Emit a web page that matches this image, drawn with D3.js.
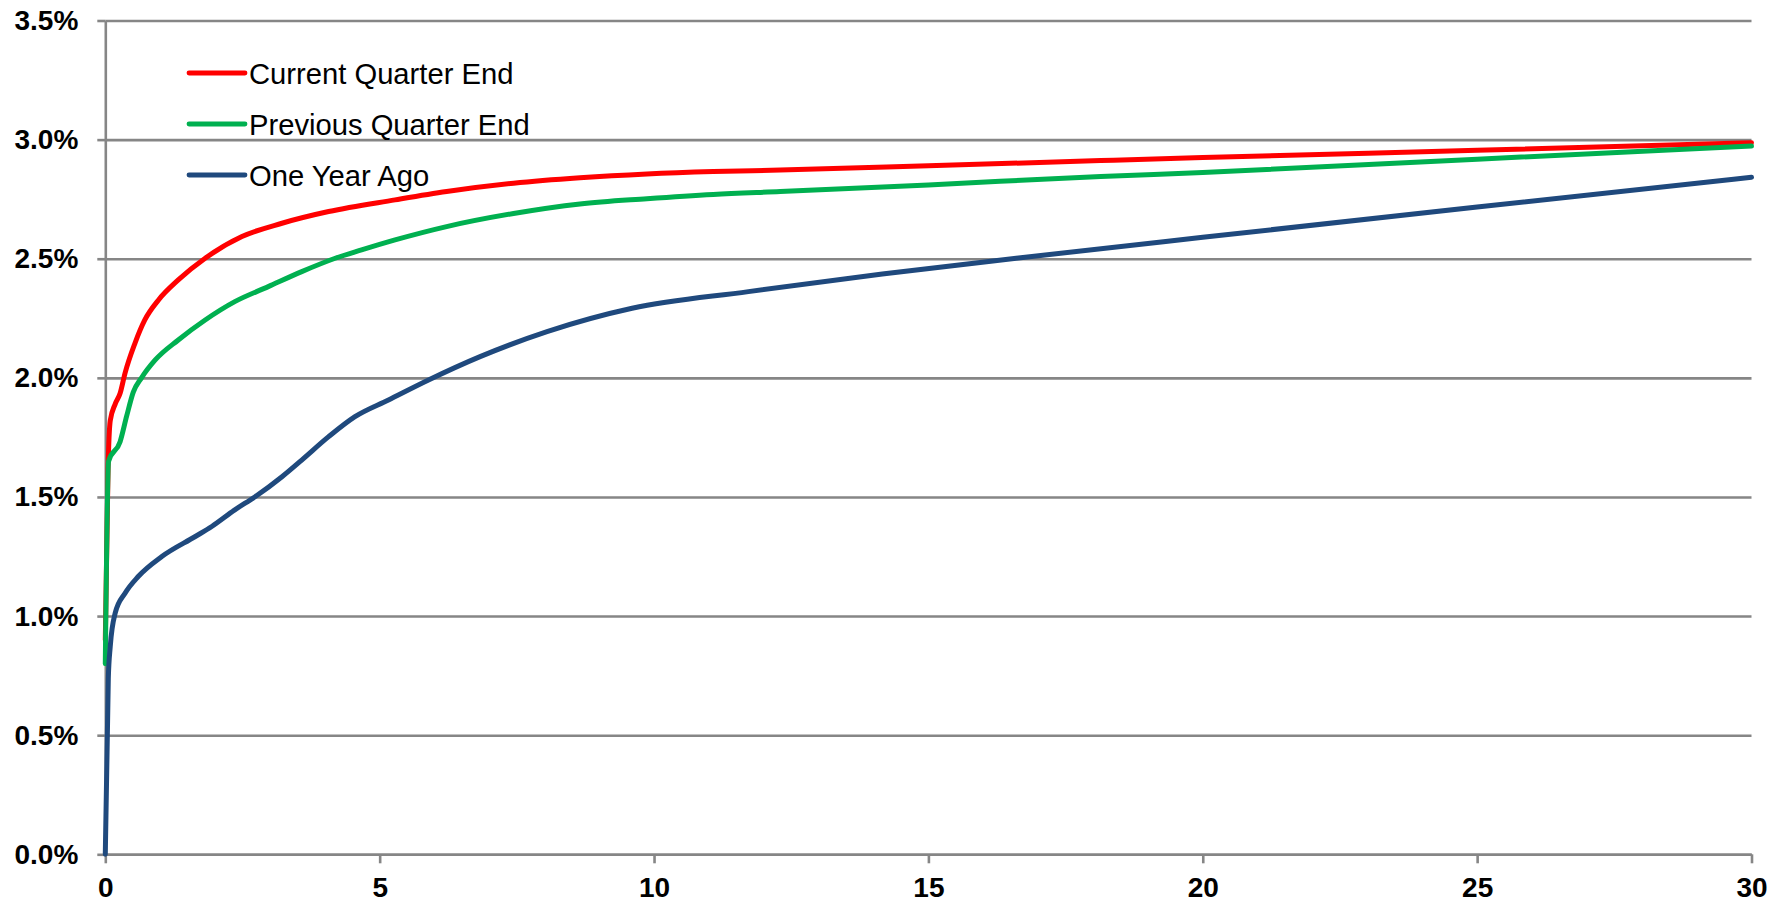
<!DOCTYPE html>
<html>
<head>
<meta charset="utf-8">
<script src="https://cdn.jsdelivr.net/npm/d3@7"></script>
<style>
  body { margin: 0; background: #fff; }
  svg { display: block; }
</style>
</head>
<body>
<div id="viz"></div>
<script>

/* yield curve chart, three dates */

// maturities (years) and yields (%)
const currentX  = [0, 0.05, 0.09, 0.18, 0.27, 0.36, 0.54, 0.72, 0.97, 1.33, 1.82, 2.49, 3.22, 4.07, 5.28, 6.22, 7.44, 8.65, 9.87, 11.08, 12.3, 15, 18.14, 20, 25, 30];
const currentY  = [0.9, 1.62, 1.82, 1.89, 1.935, 2.02, 2.145, 2.243, 2.327, 2.411, 2.502, 2.593, 2.649, 2.698, 2.747, 2.782, 2.817, 2.84, 2.856, 2.866, 2.872, 2.89, 2.912, 2.925, 2.955, 2.987];

const previousX = [0, 0.06, 0.27, 0.39, 0.51, 0.66, 0.91, 1.33, 1.82, 2.36, 2.97, 3.58, 4.19, 4.67, 5.28, 6.22, 7.44, 8.65, 9.87, 11.08, 12.3, 15, 18.14, 20, 25, 30];
const previousY = [0.8, 1.65, 1.732, 1.84, 1.94, 2.0, 2.075, 2.159, 2.243, 2.32, 2.383, 2.446, 2.502, 2.537, 2.579, 2.635, 2.69, 2.73, 2.752, 2.77, 2.782, 2.81, 2.845, 2.862, 2.918, 2.973];

const yearAgoX  = [0, 0.055, 0.09, 0.18, 0.36, 0.6, 1.03, 1.64, 1.94, 2.36, 2.73, 3.22, 3.58, 4.07, 4.55, 5.16, 5.89, 6.83, 8.05, 9.6, 11.72, 14.16, 16.6, 20, 25, 30];
const yearAgoY  = [0, 0.739, 0.872, 1.012, 1.096, 1.166, 1.25, 1.334, 1.376, 1.446, 1.501, 1.585, 1.655, 1.753, 1.837, 1.907, 1.991, 2.089, 2.194, 2.292, 2.362, 2.436, 2.502, 2.59, 2.717, 2.842];

const seriesNames  = ["Current Quarter End", "Previous Quarter End", "One Year Ago"];
const seriesColors = ["#ff0000", "#00b050", "#1f497d"];

const xTicks = [0, 5, 10, 15, 20, 25, 30];
const yTicks = [0, 0.5, 1.0, 1.5, 2.0, 2.5, 3.0, 3.5];


const margin = { top: 20.5, right: 29.5, bottom: 48.7, left: 105.3 },
    totalW = 1781, totalH = 903,
    width = totalW - margin.left - margin.right,
    height = totalH - margin.top - margin.bottom;

const gridColor = "#868686";
const font = "'Liberation Sans', Arial, sans-serif";

const svg = d3.select("#viz")
    .append("svg")
        .attr("width", totalW)
        .attr("height", totalH)
    .append("g")
        .attr("transform", "translate(" + margin.left + "," + margin.top + ")");

const x = d3.scaleLinear([0, 30], [0, width]);
const y = d3.scaleLinear([0, 3.5], [height, 0]);

// horizontal gridlines
svg.append("g")
    .call(d3.axisLeft(y).tickValues(yTicks).tickSize(-width).tickFormat(""))
    .call(g => g.select(".domain").remove())
    .call(g => g.selectAll("line").attr("stroke", gridColor).attr("stroke-width", 2.6));

// y axis with labels
svg.append("g")
    .call(d3.axisLeft(y).tickValues(yTicks).tickSizeInner(8).tickSizeOuter(0).tickPadding(19)
        .tickFormat(d => d.toFixed(1) + "%"))
    .attr("font-family", font)
    .attr("font-size", 28)
    .attr("font-weight", "bold")
    .call(g => g.select(".domain").attr("stroke", gridColor).attr("stroke-width", 2.6))
    .call(g => g.selectAll("line").attr("stroke", gridColor).attr("stroke-width", 2.6))
    .call(g => g.selectAll("text").attr("fill", "#000"));

// x axis
svg.append("g")
    .attr("transform", `translate(0,${height})`)
    .call(d3.axisBottom(x).tickValues(xTicks).tickSizeInner(9).tickSizeOuter(0).tickPadding(13.5))
    .attr("font-family", font)
    .attr("font-size", 28)
    .attr("font-weight", "bold")
    .call(g => g.select(".domain").attr("stroke", gridColor).attr("stroke-width", 2.6))
    .call(g => g.selectAll("line").attr("stroke", gridColor).attr("stroke-width", 2.6))
    .call(g => g.selectAll("text").attr("fill", "#000"));

// curves
const series = [
    { name: seriesNames[0], color: seriesColors[0], pts: d3.zip(currentX, currentY) },
    { name: seriesNames[1], color: seriesColors[1], pts: d3.zip(previousX, previousY) },
    { name: seriesNames[2], color: seriesColors[2], pts: d3.zip(yearAgoX, yearAgoY) }
];

const line = d3.line()
    .x(d => x(d[0]))
    .y(d => y(d[1]))
    .curve(d3.curveMonotoneX);

svg.selectAll(".curve")
    .data(series)
    .join("path")
        .attr("class", "curve")
        .attr("fill", "none")
        .attr("stroke", d => d.color)
        .attr("stroke-width", 5)
        .attr("stroke-linejoin", "round")
        .attr("stroke-linecap", "round")
        .attr("d", d => line(d.pts));

// legend
const legend = svg.append("g")
    .attr("transform", `translate(${189 - margin.left},${73 - margin.top})`);

const item = legend.selectAll("g")
    .data(series)
    .join("g")
        .attr("transform", (d, i) => `translate(0,${i * 51})`);

item.append("line")
    .attr("x1", 0).attr("x2", 56)
    .attr("stroke", d => d.color)
    .attr("stroke-width", 4.8)
    .attr("stroke-linecap", "round");

item.append("text")
    .attr("x", 60)
    .attr("y", 10.5)
    .attr("font-family", font)
    .attr("font-size", 29.2)
    .attr("fill", "#000")
    .text(d => d.name);

</script>
</body>
</html>
